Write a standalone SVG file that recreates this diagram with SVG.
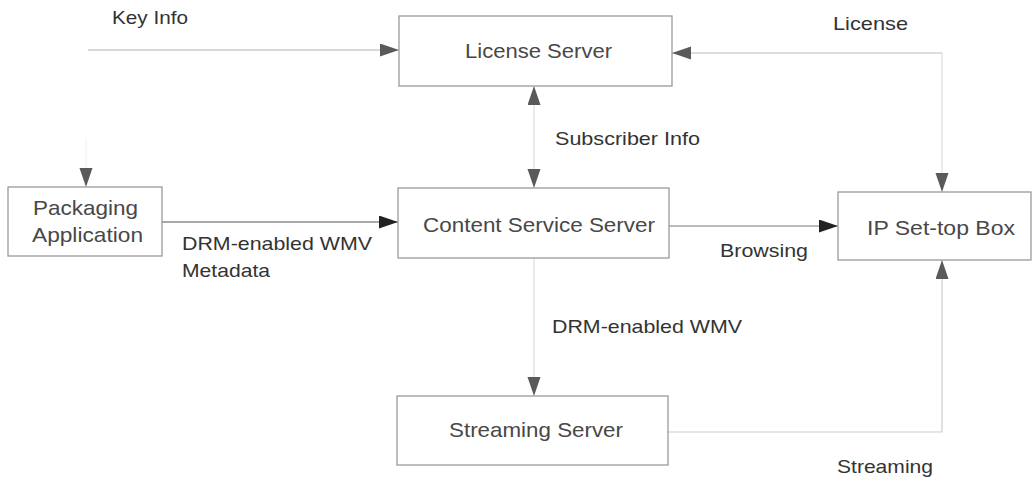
<svg xmlns="http://www.w3.org/2000/svg" width="1034" height="481" viewBox="0 0 1034 481">
  <style>
    .box { fill: #ffffff; stroke: #9a9a9a; stroke-width: 1.3; }
    .node-text { font-family: "Liberation Sans", Arial, sans-serif; font-size: 21px; fill: #484848; }
    .label { font-family: "Liberation Sans", Arial, sans-serif; font-size: 18.5px; fill: #333333; }
    .wire { fill: none; stroke-width: 1.2; }
  </style>
  <defs>
    <marker id="arrow" markerUnits="userSpaceOnUse" markerWidth="20" markerHeight="14" refX="19" refY="6.5" orient="auto-start-reverse">
      <path d="M0,0 L19,6.5 L0,13 Z" fill="#5a5a5a"/>
    </marker>
    <marker id="arrow-dark" markerUnits="userSpaceOnUse" markerWidth="20" markerHeight="14" refX="19" refY="6.5" orient="auto">
      <path d="M0,0 L19,6.5 L0,13 Z" fill="#222222"/>
    </marker>
  </defs>
  <rect width="1034" height="481" fill="#ffffff"/>

  <!-- connectors -->
  <g id="connectors">
    <line class="wire" x1="88" y1="50" x2="399" y2="50" stroke="#b4b4b4" marker-end="url(#arrow)"/>
    <polyline class="wire" points="942,53 672,53" stroke="#bbbbbb" marker-end="url(#arrow)"/>
    <line class="wire" x1="942" y1="53" x2="942" y2="192" stroke="#dddddd" marker-end="url(#arrow)"/>
    <line class="wire" x1="534" y1="86" x2="534" y2="188" stroke="#dddddd" marker-start="url(#arrow)" marker-end="url(#arrow)"/>
    <line class="wire" x1="86" y1="138" x2="86" y2="187" stroke="#f2f2f2" marker-end="url(#arrow)"/>
    <line class="wire" x1="162" y1="222" x2="398" y2="222" stroke="#555555" marker-end="url(#arrow-dark)"/>
    <line class="wire" x1="669" y1="226" x2="838" y2="226" stroke="#777777" marker-end="url(#arrow-dark)"/>
    <line class="wire" x1="534" y1="258" x2="534" y2="396" stroke="#dddddd" marker-end="url(#arrow)"/>
    <polyline class="wire" points="668,432 942,432 942,260" stroke="#cccccc" marker-end="url(#arrow)"/>

    <text class="label" x="112" y="24" textLength="76" lengthAdjust="spacingAndGlyphs">Key Info</text>
    <text class="label" x="833" y="30" textLength="75" lengthAdjust="spacingAndGlyphs">License</text>
    <text class="label" x="555" y="145" textLength="145" lengthAdjust="spacingAndGlyphs">Subscriber Info</text>
    <text class="label" x="182" y="250" textLength="190" lengthAdjust="spacingAndGlyphs">DRM-enabled WMV</text>
    <text class="label" x="182" y="277" textLength="88" lengthAdjust="spacingAndGlyphs">Metadata</text>
    <text class="label" x="720" y="257" textLength="88" lengthAdjust="spacingAndGlyphs">Browsing</text>
    <text class="label" x="552" y="333" textLength="190" lengthAdjust="spacingAndGlyphs">DRM-enabled WMV</text>
    <text class="label" x="837" y="473" textLength="96" lengthAdjust="spacingAndGlyphs">Streaming</text>
  </g>

  <!-- nodes -->
  <g id="license-server">
    <rect class="box" x="399" y="16" width="273" height="70"/>
    <text class="node-text" x="465" y="58" textLength="147" lengthAdjust="spacingAndGlyphs">License Server</text>
  </g>
  <g id="packaging-application">
    <rect class="box" x="8" y="187" width="154" height="69"/>
    <text class="node-text" x="33" y="215" textLength="105" lengthAdjust="spacingAndGlyphs">Packaging</text>
    <text class="node-text" x="32" y="242" textLength="111" lengthAdjust="spacingAndGlyphs">Application</text>
  </g>
  <g id="content-service-server">
    <rect class="box" x="398" y="188" width="271" height="70"/>
    <text class="node-text" x="423" y="232" textLength="232" lengthAdjust="spacingAndGlyphs">Content Service Server</text>
  </g>
  <g id="ip-set-top-box">
    <rect class="box" x="838" y="192" width="193" height="68"/>
    <text class="node-text" x="867" y="235" textLength="148" lengthAdjust="spacingAndGlyphs">IP Set-top Box</text>
  </g>
  <g id="streaming-server">
    <rect class="box" x="397" y="396" width="271" height="69"/>
    <text class="node-text" x="449" y="437" textLength="174" lengthAdjust="spacingAndGlyphs">Streaming Server</text>
  </g>
</svg>
